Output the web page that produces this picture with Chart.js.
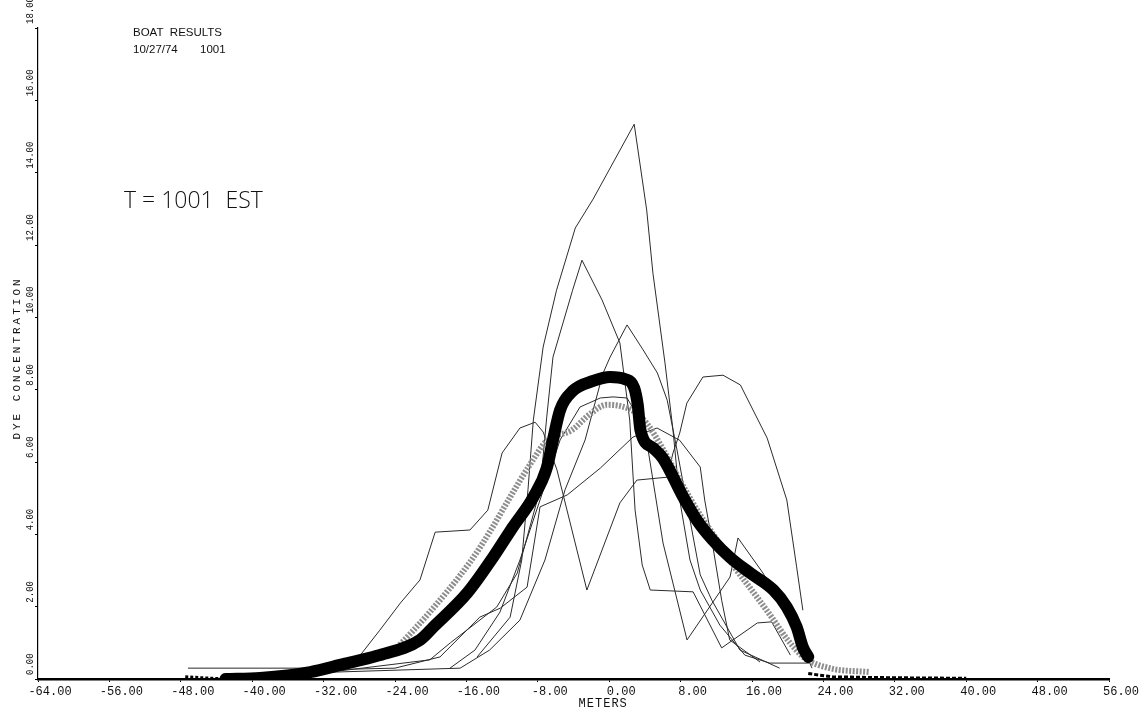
<!DOCTYPE html>
<html>
<head>
<meta charset="utf-8">
<title>Boat results</title>
<script src="https://cdn.jsdelivr.net/npm/chart.js@4"></script>
<style>
  html, body { margin: 0; padding: 0; background: #fff; }
</style>
</head>
<body>
<canvas id="myChart" width="1141" height="715"></canvas>
<script>
// axis ranges
const xTicksFrom = -64, xTicksTo = 56, xStep = 8;
const yTicksFrom = 0, yTicksTo = 18, yStep = 2;

// smoothed profile (thick black band)
const thickX = [-43.0, -39.1, -33.5, -29.8, -26.0, -21.2, -19.7, -15.9, -13.0, -10.8, -8.5, -7.0, -6.3, -5.5, -4.1, -1.8, 0.1, 1.8, 2.8, 3.2, 3.5, 4.9, 6.0, 8.3, 9.8, 11.6, 13.5, 15.8, 18.4, 19.9, 21.0, 21.7, 22.3];
const thickY = [0.0, 0.03, 0.19, 0.41, 0.64, 1.08, 1.44, 2.38, 3.37, 4.2, 5.03, 5.83, 6.61, 7.44, 7.96, 8.24, 8.35, 8.29, 8.05, 7.58, 6.88, 6.39, 6.11, 5.03, 4.4, 3.84, 3.37, 2.93, 2.46, 1.99, 1.44, 0.88, 0.61];

// second smoothed profile (grey band)
const greyX = [-24.0, -20.1, -15.6, -13.4, -11.1, -8.9, -6.9, -4.2, -2.15, -0.25, 1.2, 2.9, 4.35, 5.9, 7.9, 10.2, 11.85, 14.1, 16.3, 18.2, 20.0, 21.9, 24.7, 29.2];
const greyY = [0.8, 1.85, 3.23, 4.06, 5.03, 5.92, 6.61, 6.88, 7.33, 7.58, 7.55, 7.38, 7.02, 6.41, 5.5, 4.53, 3.93, 3.07, 2.35, 1.71, 1.08, 0.58, 0.3, 0.19];

// individual boat passes (thin lines)
const pass1X = [-14.8, -11.1, -9.8, -9.1, -8.5, -7.4, -5.9, -3.8, -1.8, 2.8, 4.2, 4.9, 6.25, 7.15, 7.9, 9.05, 10.2, 12.4, 15.2, 18.0, 22.5];
const pass1Y = [0.61, 1.71, 3.29, 5.23, 7.16, 9.18, 10.75, 12.47, 13.27, 15.34, 12.97, 11.22, 8.74, 6.88, 4.95, 3.29, 2.46, 1.49, 0.66, 0.44, 0.44];

const pass2X = [-31.0, -20.1, -17.8, -12.6, -10.3, -7.75, -7.0, -6.3, -4.1, -3.05, -0.8, 1.2, 2.3, 2.9, 3.7, 4.6, 9.4, 12.6, 16.6, 18.2, 20.3];
const pass2Y = [0.2, 0.53, 1.0, 1.99, 2.93, 5.23, 7.24, 8.9, 10.75, 11.58, 10.48, 9.29, 7.16, 4.67, 3.15, 2.46, 2.41, 0.86, 1.55, 1.58, 0.66];

const pass3X = [-36.0, -16.7, -13.4, -10.0, -7.2, -4.95, -2.7, -0.7, 0.1, 2.0, 3.8, 5.4, 6.5, 7.6, 9.05, 10.2, 11.5, 14.65, 19.1];
const pass3Y = [0.15, 0.3, 0.8, 1.63, 3.29, 5.23, 6.61, 8.45, 8.9, 9.79, 9.1, 8.46, 7.71, 6.33, 4.4, 2.88, 2.18, 0.8, 0.3];

const pass4X = [-47.2, -31.0, -28.3, -25.7, -23.4, -21.2, -19.5, -15.6, -13.6, -12.0, -10.0, -8.3, -7.4, -5.85, -2.5, 1.2, 3.1, 6.5, 7.15, 7.9, 8.7, 10.5, 12.75, 14.7, 17.7, 19.9, 21.0, 21.7];
const pass4Y = [0.3, 0.3, 0.53, 1.35, 2.1, 2.74, 4.06, 4.12, 4.67, 6.25, 6.94, 7.1, 6.83, 5.78, 2.46, 4.87, 5.5, 5.58, 6.25, 6.8, 7.63, 8.35, 8.4, 8.13, 6.66, 4.95, 3.1, 1.9];

const pass5X = [-32.7, -24.0, -18.96, -14.5, -12.2, -9.2, -7.75, -4.7, -1.0, 2.67, 5.36, 7.9, 10.2, 10.7, 11.5, 12.6, 13.5, 16.9];
const pass5Y = [0.25, 0.3, 0.61, 1.71, 1.96, 2.54, 4.76, 5.09, 5.83, 6.69, 6.94, 6.6, 5.86, 4.95, 3.84, 2.18, 1.08, 0.47];

const pass6X = [-17.84, -15.04, -12.24, -10.0, -7.75, -5.5, -3.27, -1.0, 0.43, 2.0, 3.45, 4.24, 6.03, 8.72, 13.54, 14.43, 17.23, 21.04, 22.72];
const pass6Y = [0.3, 0.8, 1.85, 3.29, 4.95, 6.61, 7.52, 7.77, 7.8, 7.77, 7.16, 6.52, 3.76, 1.08, 2.82, 3.9, 2.93, 1.27, 0.3];

// near-zero tails of the smoothed profile
const tailLeftX = [-47.5, -43.0];
const tailLeftY = [0.06, 0.0];
const tailRightX = [22.3, 25.0, 30.0, 34.0, 40.0];
const tailRightY = [0.15, 0.06, 0.04, 0.03, 0.02];

function pts(xs, ys) {
  return xs.map(function (x, i) { return { x: x, y: ys[i] }; });
}

function thin(xs, ys) {
  return {
    data: pts(xs, ys),
    borderColor: '#2b2b2b',
    borderWidth: 1,
    tension: 0,
    order: 3
  };
}

const datasets = [
  {
    data: pts(thickX, thickY),
    borderColor: '#000',
    borderWidth: 12,
    cubicInterpolationMode: 'monotone',
    borderCapStyle: 'round',
    order: 1
  },
  {
    data: pts(greyX, greyY),
    borderColor: '#8e8e8e',
    borderWidth: 6,
    borderDash: [2, 1.5],
    cubicInterpolationMode: 'monotone',
    order: 2
  },
  {
    data: pts(tailLeftX, tailLeftY),
    borderColor: '#000',
    borderWidth: 3,
    borderDash: [3, 2],
    order: 1
  },
  {
    data: pts(tailRightX, tailRightY),
    borderColor: '#000',
    borderWidth: 3,
    borderDash: [4, 2],
    order: 1
  },
  thin(pass1X, pass1Y),
  thin(pass2X, pass2Y),
  thin(pass3X, pass3Y),
  thin(pass4X, pass4Y),
  thin(pass5X, pass5Y),
  thin(pass6X, pass6Y)
];

// texts drawn on top: rotated y labels, axis names, header
const plotText = {
  id: 'plotText',
  afterDraw(chart) {
    const ctx = chart.ctx;
    const xs = chart.scales.x;
    const ys = chart.scales.y;
    ctx.save();
    ctx.fillStyle = '#111';

    // y tick labels, reading upwards from the tick
    ctx.font = '10px "Liberation Mono"';
    ys.ticks.forEach(function (t) {
      const py = ys.getPixelForValue(t.value);
      ctx.save();
      ctx.translate(30, py - 4);
      ctx.rotate(-Math.PI / 2);
      ctx.scale(0.9, 1);
      ctx.textAlign = 'left';
      ctx.textBaseline = 'middle';
      ctx.fillText(t.value.toFixed(2), 0, 0);
      ctx.restore();
    });

    // y axis name
    ctx.save();
    ctx.font = '11px "Liberation Mono"';
    ctx.letterSpacing = '3px';
    ctx.translate(17, 358);
    ctx.rotate(-Math.PI / 2);
    ctx.textAlign = 'center';
    ctx.textBaseline = 'middle';
    ctx.fillText('DYE CONCENTRATION', 0, 0);
    ctx.restore();

    // x axis name under the 0 tick
    ctx.save();
    ctx.font = '12px "Liberation Mono"';
    ctx.letterSpacing = '1px';
    ctx.textAlign = 'center';
    ctx.textBaseline = 'alphabetic';
    ctx.fillText('METERS', xs.getPixelForValue(0) - 6, 707);
    ctx.restore();

    // header
    ctx.font = '11.5px "Liberation Sans"';
    ctx.textBaseline = 'alphabetic';
    ctx.fillText('BOAT  RESULTS', 133, 36);
    ctx.fillText('10/27/74', 133, 53);
    ctx.fillText('1001', 200, 53);

    ctx.font = '300 23px "Open Sans"';
    ctx.fillText('T = 1001  EST', 124, 208);
    ctx.restore();
  }
};

const config = {
  type: 'line',
  data: { datasets: datasets },
  options: {
    responsive: false,
    animation: false,
    events: [],
    layout: { padding: { left: 0, right: 32, top: 28, bottom: 0 } },
    elements: {
      point: { radius: 0 },
      line: { borderJoinStyle: 'round' }
    },
    scales: {
      x: {
        type: 'linear',
        min: xTicksFrom,
        max: xTicksTo,
        ticks: {
          stepSize: xStep,
          autoSkip: false,
          maxRotation: 0,
          labelOffset: 12,
          padding: 3,
          color: '#111',
          font: { family: 'Liberation Mono', size: 12 },
          callback: function (v) { return v.toFixed(2); }
        },
        grid: { drawOnChartArea: false, drawTicks: true, tickLength: 3, color: '#000' },
        border: { display: true, color: '#000', width: 2.5 },
        afterFit: function (scale) {
          scale.height = 36;
          scale.paddingLeft = 0;
          scale.paddingRight = 0;
        }
      },
      y: {
        type: 'linear',
        min: yTicksFrom,
        max: yTicksTo,
        ticks: { stepSize: yStep, display: false },
        grid: { drawOnChartArea: false, drawTicks: true, tickLength: 3, color: '#000' },
        border: { display: true, color: '#000', width: 1.2 },
        afterFit: function (scale) {
          scale.width = 38;
          scale.paddingTop = 0;
          scale.paddingBottom = 0;
        }
      }
    },
    plugins: {
      legend: { display: false },
      tooltip: { enabled: false },
      title: { display: false }
    }
  },
  plugins: [plotText]
};

const myChart = new Chart(document.getElementById('myChart'), config);
</script>
</body>
</html>
